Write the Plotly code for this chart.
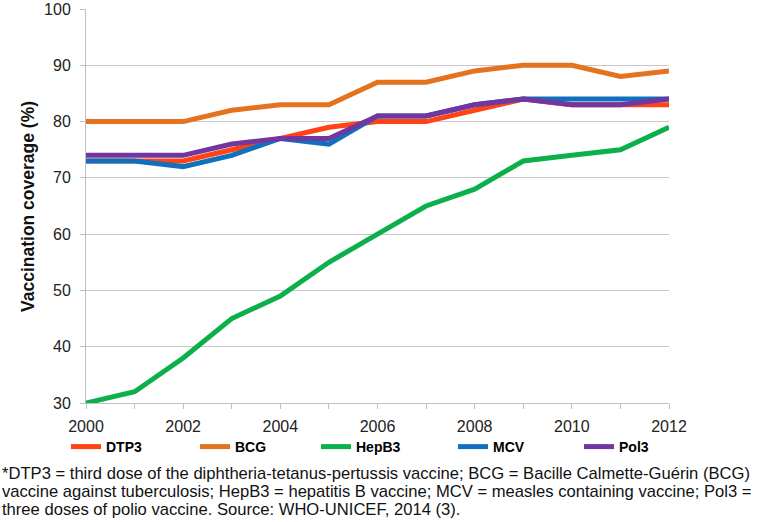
import plotly.graph_objects as go

years = list(range(2000, 2013))
dtp3 = [73, 73, 73, 75, 77, 79, 80, 80, 82, 84, 83, 83, 83]
bcg = [80, 80, 80, 82, 83, 83, 87, 87, 89, 90, 90, 88, 89]
hepb3 = [30, 32, 38, 45, 49, 55, 60, 65, 68, 73, 74, 75, 79]
mcv = [73, 73, 72, 74, 77, 76, 81, 81, 83, 84, 84, 84, 84]
pol3 = [74, 74, 74, 76, 77, 77, 81, 81, 83, 84, 83, 83, 84]

series_names = ["DTP3", "BCG", "HepB3", "MCV", "Pol3"]
series_values = [dtp3, bcg, hepb3, mcv, pol3]
colors = ["#FF4314", "#E3731E", "#0CB04A", "#1170BE", "#7136A0"]

x_tick_vals = [2000, 2002, 2004, 2006, 2008, 2010, 2012]
y_tick_vals = [30, 40, 50, 60, 70, 80, 90, 100]

y_title = "Vaccination coverage (%)"
footnote_lines = [
    "*DTP3 = third dose of the diphtheria-tetanus-pertussis vaccine; BCG = Bacille Calmette-Guérin (BCG)",
    "vaccine against tuberculosis; HepB3 = hepatitis B vaccine; MCV = measles containing vaccine; Pol3 =",
    "three doses of polio vaccine. Source: WHO-UNICEF, 2014 (3).",
]

W, H = 760, 522
L, R, T, B = 86, 91, 9, 119
pw, ph = W - L - R, H - T - B
FONT = "Liberation Sans, Arial, sans-serif"


def px_x(p):
    return (p - L) / pw


def px_y(p):
    return (H - B - p) / ph


fig = go.Figure()
legend_px = [66, 195, 316, 453, 579]
legend_keys = ["legend", "legend2", "legend3", "legend4", "legend5"]
for name, vals, col, lk in zip(series_names, series_values, colors, legend_keys):
    fig.add_trace(go.Scatter(
        x=years, y=vals, mode="lines", name=f"<b>{name}</b>",
        line=dict(color=col, width=5),
        legend=lk,
    ))

layout_legends = {}
for lk, lx in zip(legend_keys, legend_px):
    layout_legends[lk] = dict(
        x=px_x(lx), y=px_y(447), xanchor="left", yanchor="middle",
        orientation="h", bgcolor="rgba(0,0,0,0)",
        font=dict(family=FONT, size=14, color="#000000"),
        itemwidth=30,
    )

annotations = []
for i, line in enumerate(footnote_lines):
    annotations.append(dict(
        text=line, x=px_x(0), y=px_y(473 + 18 * i), xref="paper", yref="paper",
        xanchor="left", yanchor="middle", showarrow=False, align="left",
        font=dict(family=FONT, size=16.6, color="#111111"),
    ))
annotations.append(dict(
    text=f"<b>{y_title}</b>", x=px_x(28), y=px_y(207), xref="paper", yref="paper",
    xanchor="center", yanchor="middle", showarrow=False, textangle=-90,
    font=dict(family=FONT, size=17.5, color="#111111"),
))

fig.update_layout(
    width=W, height=H,
    margin=dict(l=L, r=R, t=T, b=B, autoexpand=False),
    paper_bgcolor="white", plot_bgcolor="white",
    showlegend=True,
    annotations=annotations,
    font=dict(family=FONT, color="#222222"),
    **layout_legends,
)

fig.update_xaxes(
    range=[2000, 2012], tickvals=x_tick_vals, ticktext=[str(v) for v in x_tick_vals],
    showgrid=False, showline=True, linecolor="#BFBFBF", linewidth=1,
    ticks="outside", ticklen=5, tickcolor="#BFBFBF",
    minor=dict(dtick=1, tick0=2000, ticks="outside", ticklen=5, tickcolor="#BFBFBF", showgrid=False),
    tickfont=dict(family=FONT, size=16, color="#222222"),
    ticklabelstandoff=4,
    zeroline=False, automargin=False,
)
fig.update_yaxes(
    range=[30, 100], tickvals=y_tick_vals,
    showgrid=True, gridcolor="#C8C8C8", gridwidth=1,
    showline=True, linecolor="#BFBFBF", linewidth=1,
    ticks="outside", ticklen=5, tickcolor="#BFBFBF",
    tickfont=dict(family=FONT, size=16, color="#222222"),
    ticklabelstandoff=6,
    zeroline=False, automargin=False,
)

fig.write_html(
    "out.html",
    config={"displayModeBar": False},
    post_script="document.body.style.margin='0';document.body.style.overflow='hidden';",
)
